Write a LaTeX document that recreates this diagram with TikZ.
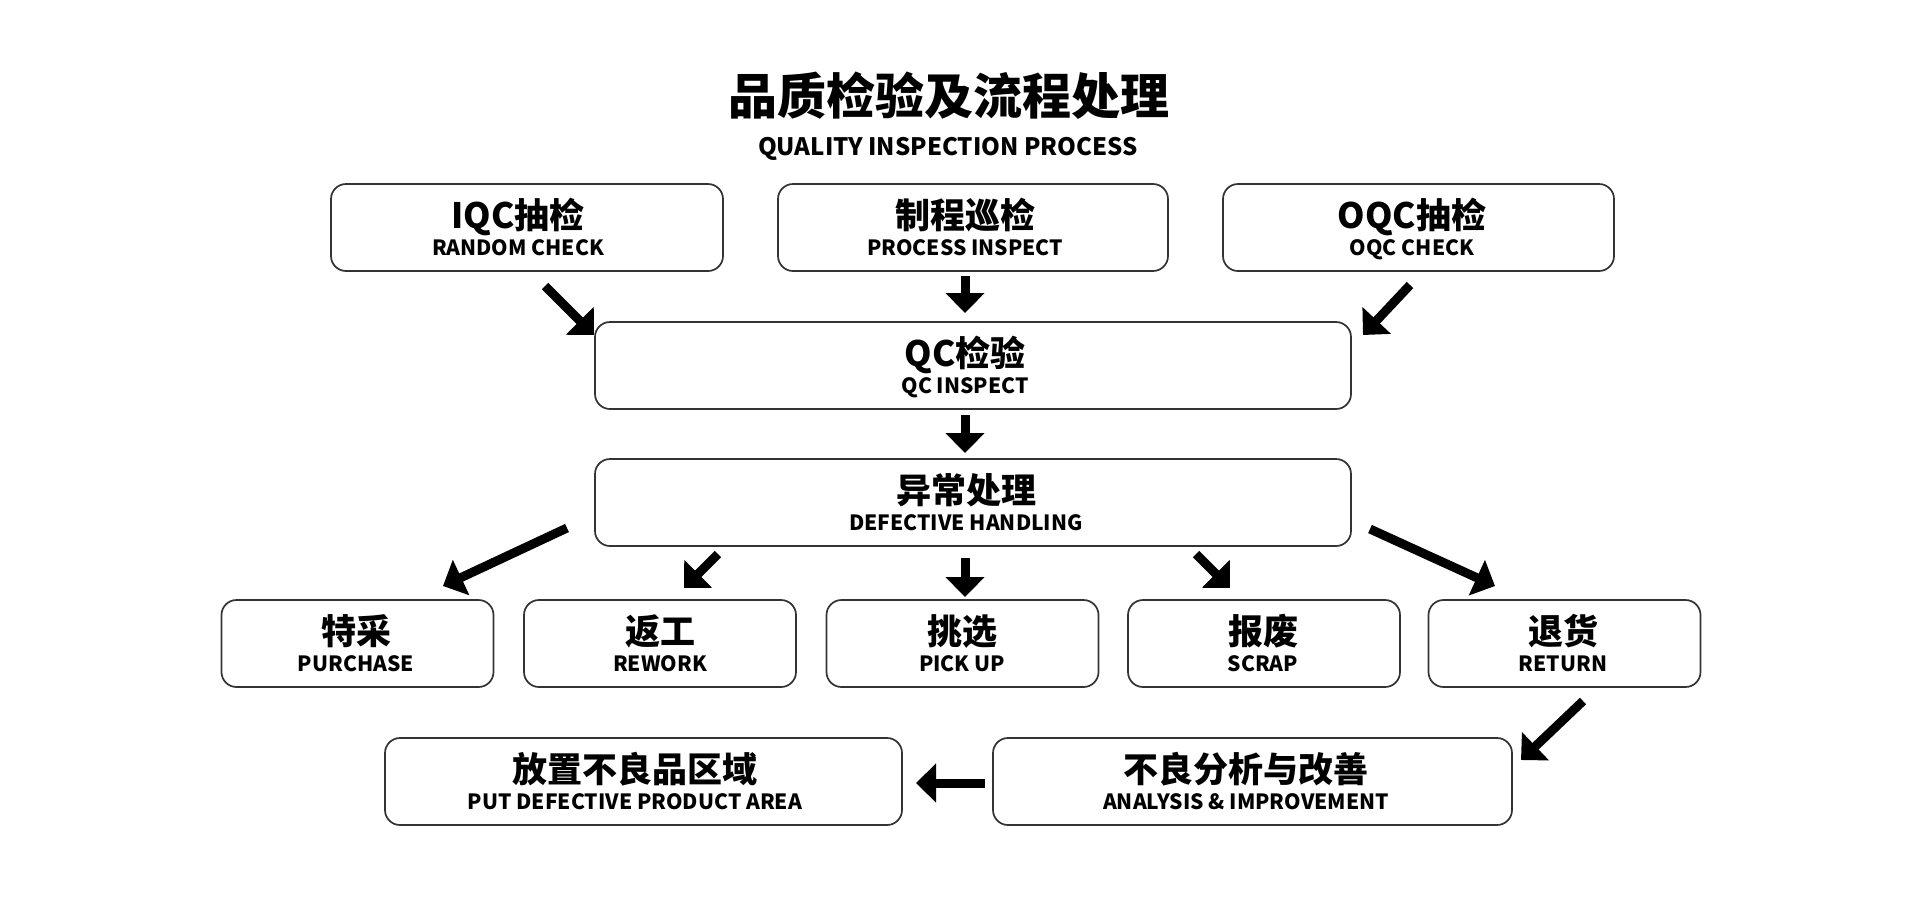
\documentclass[tikz,border=0pt]{standalone}
\usepackage{fontspec}
\setmainfont{Noto Sans CJK SC}
\usetikzlibrary{arrows.meta}
\tikzset{
  box/.style={draw=black!80, line width=1.7pt, rounded corners=15pt, minimum height=87pt, inner sep=0pt, fill=white},
  cn/.style={font=\bfseries\fontsize{35}{35}\selectfont, anchor=base, inner sep=0pt},
  en/.style={font=\bfseries\fontsize{21}{21}\selectfont, anchor=base, inner sep=0pt},
  ttl/.style={font=\bfseries\fontsize{49}{49}\selectfont, anchor=base, inner sep=0pt},
  sub/.style={font=\bfseries\fontsize{24}{24}\selectfont, anchor=base, inner sep=0pt},
  arr/.style={line width=9pt, -{Triangle[width=38pt,length=20pt]}},
}
\begin{document}
\begin{tikzpicture}[x=1pt,y=-1pt]
\useasboundingbox[fill=white] (0,0) rectangle (1920,914);
% title
\node[ttl] (title) at (949,114) {品质检验及流程处理};
\node[sub] (subtitle) at (948,155) {QUALITY INSPECTION PROCESS};
% top row
\node[box, minimum width=392pt] (iqc) at (527,227.5) {};
\node[cn] (iqcc) at (518,228) {IQC抽检};
\node[en] (iqce) at (518,255) {RANDOM CHECK};
\node[box, minimum width=390pt] (ipqc) at (973,227.5) {};
\node[cn] (ipqcc) at (965,228) {制程巡检};
\node[en] (ipqce) at (965,255) {PROCESS INSPECT};
\node[box, minimum width=391pt] (oqc) at (1418.5,227.5) {};
\node[cn] (oqcc) at (1412,228) {OQC抽检};
\node[en] (oqce) at (1412,255) {OQC CHECK};
% middle
\node[box, minimum width=756pt] (qc) at (973,365.5) {};
\node[cn] (qcc) at (965,366) {QC检验};
\node[en] (qce) at (965,393) {QC INSPECT};
\node[box, minimum width=756pt] (abn) at (973,502.5) {};
\node[cn] (abnc) at (966,503) {异常处理};
\node[en] (abne) at (966,530) {DEFECTIVE HANDLING};
% bottom row
\node[box, minimum width=272pt] (pur) at (357.5,643.5) {};
\node[cn] (purc) at (356,644) {特采};
\node[en] (pure) at (356,671) {PURCHASE};
\node[box, minimum width=272pt] (rew) at (660,643.5) {};
\node[cn] (rewc) at (660,644) {返工};
\node[en] (rewe) at (660,671) {REWORK};
\node[box, minimum width=272pt] (pick) at (962.5,643.5) {};
\node[cn] (pickc) at (962,644) {挑选};
\node[en] (picke) at (962,671) {PICK UP};
\node[box, minimum width=272pt] (scr) at (1264,643.5) {};
\node[cn] (scrc) at (1263,644) {报废};
\node[en] (scre) at (1263,671) {SCRAP};
\node[box, minimum width=272pt] (ret) at (1564.5,643.5) {};
\node[cn] (retc) at (1563,644) {退货};
\node[en] (rete) at (1563,671) {RETURN};
% last row
\node[box, minimum width=517pt] (put) at (643.5,781.5) {};
\node[cn] (putc) at (635,782) {放置不良品区域};
\node[en] (pute) at (635,809) {PUT DEFECTIVE PRODUCT AREA};
\node[box, minimum width=519pt] (ana) at (1252.5,781.5) {};
\node[cn] (anac) at (1246,782) {不良分析与改善};
\node[en] (anae) at (1246,809) {ANALYSIS \& IMPROVEMENT};
% arrow end points
\coordinate (a1s) at (545,286);  \coordinate (a1e) at (594,335);
\coordinate (a2s) at (965,276);  \coordinate (a2e) at (965,313);
\coordinate (a3s) at (1410,285); \coordinate (a3e) at (1363,335);
\coordinate (a4s) at (965,415);  \coordinate (a4e) at (965,453);
\coordinate (a5s) at (567,528);  \coordinate (a5e) at (443,586);
\coordinate (a6s) at (718,554);  \coordinate (a6e) at (684,588);
\coordinate (a7s) at (965,558);  \coordinate (a7e) at (965,597);
\coordinate (a8s) at (1196,554); \coordinate (a8e) at (1230,588);
\coordinate (a9s) at (1370,529); \coordinate (a9e) at (1495,586);
\coordinate (a10s) at (1583,701); \coordinate (a10e) at (1521,760);
\coordinate (a11s) at (985,783); \coordinate (a11e) at (916,783);
\draw[arr] (a1s) -- (a1e);
\draw[arr] (a2s) -- (a2e);
\draw[arr] (a3s) -- (a3e);
\draw[arr] (a4s) -- (a4e);
\draw[arr] (a5s) -- (a5e);
\draw[arr] (a6s) -- (a6e);
\draw[arr] (a7s) -- (a7e);
\draw[arr] (a8s) -- (a8e);
\draw[arr] (a9s) -- (a9e);
\draw[arr] (a10s) -- (a10e);
\draw[arr] (a11s) -- (a11e);
\end{tikzpicture}
\end{document}
